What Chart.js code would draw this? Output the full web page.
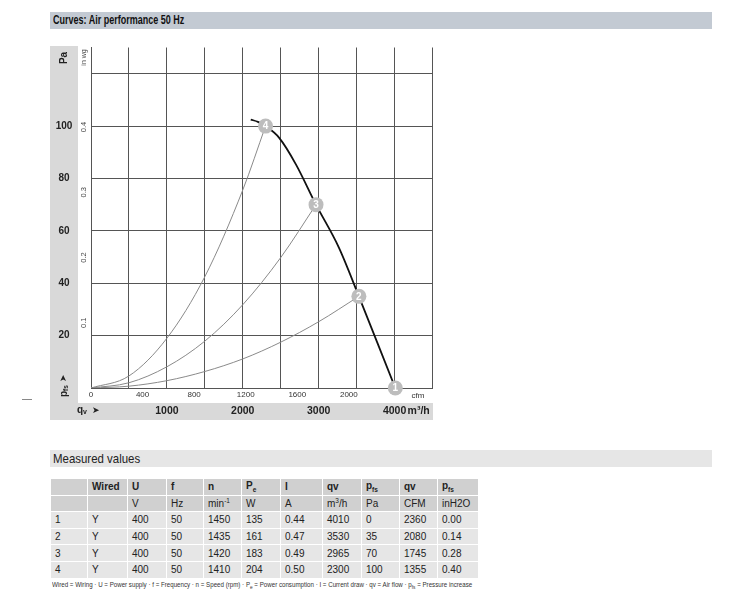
<!DOCTYPE html>
<html>
<head>
<meta charset="utf-8">
<script src="https://cdn.jsdelivr.net/npm/chart.js@4"></script>
<style>
  body { margin: 0; background: #fff; font-family: "Liberation Sans", Arial, sans-serif; color: #222; }
  #title { position: absolute; left: 50px; top: 12px; width: 662px; height: 17px; background: #c3cad3; }
  #title span { position: absolute; left: 3px; top: 1px; font: bold 12.5px "Liberation Sans", Arial, sans-serif; color: #111; transform: scaleX(0.72); transform-origin: left center; white-space: nowrap; }
  #wrap { position: absolute; left: 50px; top: 40px; width: 390px; height: 385px; }
  #dash { position: absolute; left: 22px; top: 399px; width: 10px; height: 1px; background: #888; }
  #mv { position: absolute; left: 50px; top: 450px; width: 662px; height: 17px; background: #e6e6e6; }
  #mv span { position: absolute; left: 3px; top: 1px; font-size: 13px; color: #222; transform: scaleX(0.88); transform-origin: left center; white-space: nowrap; }
  #tb { position: absolute; left: 50px; top: 478px; border-collapse: collapse; table-layout: fixed; width: 428px; }
  #tb td { border: 1px solid #fff; height: 15.6px; padding: 0 0 0 4px; font-size: 10px; color: #222; white-space: nowrap; overflow: hidden; }
  #tb tr.h td { background: #d0d0d0; }
  #tb tr.d td { background: #e6e6e6; }
  #tb tr.b td { font-weight: bold; }
  #tb sub, #tb sup { font-size: 6.5px; }
  #note { position: absolute; left: 52px; top: 581px; font-size: 6.5px; color: #333; white-space: nowrap; transform: scaleX(0.95); transform-origin: left center; }
  #note sub { font-size: 5px; }
</style>
</head>
<body>
<div id="title"><span>Curves: Air performance 50 Hz</span></div>
<div id="wrap"><canvas id="fanChart" width="390" height="385"></canvas></div>
<div id="dash"></div>
<div id="mv"><span>Measured values</span></div>
<table id="tb">
  <colgroup>
    <col style="width:37px"><col style="width:40px"><col style="width:39px"><col style="width:37px">
    <col style="width:38px"><col style="width:39px"><col style="width:42px"><col style="width:39px">
    <col style="width:38px"><col style="width:38px"><col style="width:41px">
  </colgroup>
  <tbody id="tbody"></tbody>
</table>
<div id="note">Wired = Wiring · U = Power supply · f = Frequency · n = Speed (rpm) · P<sub>e</sub> = Power consumption · I = Current draw · qv = Air flow · p<sub>fs</sub> = Pressure increase</div>

<script>
// fan curve (m3/h, Pa)
var fanQ = [2105, 2200, 2300, 2480, 2700, 2965, 3265, 3530, 3770, 4010];
var fanP = [102.5, 101.6, 100, 95.5, 85.4, 70, 53.7, 35, 17.5, 0];

// operating points 1-4
var opLabels = ['1', '2', '3', '4'];
var opQ = [4010, 3530, 2965, 2300];
var opP = [0, 35, 70, 100];

// system curves through points 2, 3, 4
var sys2Q = [0, 500, 1000, 1500, 2000, 2500, 3000, 3530];
var sys2P = [0, 0.7, 2.8, 6.3, 11.1, 17.5, 25.3, 35];
var sys3Q = [0, 500, 1000, 1500, 2000, 2500, 2965];
var sys3P = [0, 2, 8.1, 17.9, 31.8, 49.8, 70];
var sys4Q = [0, 500, 1000, 1500, 2000, 2300];
var sys4P = [0, 4.6, 19, 42.5, 75.6, 100];

// tick labels
var paTicks = [20, 40, 60, 80, 100];
var inwgTicks = [0.1, 0.2, 0.3, 0.4];
var cfmTicks = [0, 400, 800, 1200, 1600, 2000];
var m3hTicks = [1000, 2000, 3000, 4000];

// measured values table
var tblWired = ['Y', 'Y', 'Y', 'Y'];
var tblU = [400, 400, 400, 400];
var tblF = [50, 50, 50, 50];
var tblN = [1450, 1435, 1420, 1410];
var tblPe = [135, 161, 183, 204];
var tblI = ['0.44', '0.47', '0.49', '0.50'];
var tblQv = [4010, 3530, 2965, 2300];
var tblPfs = [0, 35, 70, 100];
var tblCfm = [2360, 2080, 1745, 1355];
var tblInH2O = ['0.00', '0.14', '0.28', '0.40'];

var M3H_PER_CFM = 1.699;
var PA_PER_INWG = 249.09;

function xy(qs, ps) {
  return qs.map(function (q, i) { return { x: q, y: ps[i] }; });
}

// table
var head1 = ['', 'Wired', 'U', 'f', 'n', 'P<sub>e</sub>', 'I', 'qv', 'p<sub>fs</sub>', 'qv', 'p<sub>fs</sub>'];
var head2 = ['', '', 'V', 'Hz', 'min<sup>-1</sup>', 'W', 'A', 'm<sup>3</sup>/h', 'Pa', 'CFM', 'inH2O'];
var html = '<tr class="h b">' + head1.map(function (c) { return '<td>' + c + '</td>'; }).join('') + '</tr>';
html += '<tr class="h">' + head2.map(function (c) { return '<td>' + c + '</td>'; }).join('') + '</tr>';
for (var i = 0; i < opLabels.length; i++) {
  var row = [opLabels[i], tblWired[i], tblU[i], tblF[i], tblN[i], tblPe[i], tblI[i], tblQv[i], tblPfs[i], tblCfm[i], tblInH2O[i]];
  html += '<tr class="d">' + row.map(function (c) { return '<td>' + c + '</td>'; }).join('') + '</tr>';
}
document.getElementById('tbody').innerHTML = html;

var decor = {
  id: 'decor',
  beforeDraw: function (chart) {
    var c = chart.ctx;
    c.save();
    c.fillStyle = '#d9d9d9';
    c.fillRect(0, 6, 28, 374);
    c.fillRect(0, 363, 383, 17);
    c.restore();
  },
  afterDatasetsDraw: function (chart) {
    var c = chart.ctx;
    var meta = chart.getDatasetMeta(0);
    c.save();
    c.fillStyle = '#fff';
    c.font = 'bold 10px "Liberation Sans", Arial, sans-serif';
    c.textAlign = 'center';
    c.textBaseline = 'middle';
    meta.data.forEach(function (pt, i) {
      c.fillText(opLabels[i], pt.x, pt.y + 0.5);
    });
    c.restore();
  },
  afterDraw: function (chart) {
    var c = chart.ctx;
    var xs = chart.scales.x, ys = chart.scales.y;
    c.save();
    c.fillStyle = '#222';
    c.textBaseline = 'middle';

    // Pa labels
    c.font = 'bold 10px "Liberation Sans", Arial, sans-serif';
    c.textAlign = 'center';
    paTicks.forEach(function (v) { c.fillText(String(v), 14, ys.getPixelForValue(v)); });

    // m3/h labels
    c.font = 'bold 10.5px "Liberation Sans", Arial, sans-serif';
    m3hTicks.forEach(function (v) { c.fillText(String(v), xs.getPixelForValue(v), 371); });
    c.textAlign = 'left';
    c.fillText('m³/h', xs.getPixelForValue(4000) + 13, 371);

    // qv arrow
    c.font = 'bold 10px "Liberation Sans", Arial, sans-serif';
    c.fillText('q', 27, 370);
    c.font = 'bold 7px "Liberation Sans", Arial, sans-serif';
    c.fillText('v', 33, 372);
    c.font = '9px "DejaVu Sans", sans-serif';
    c.fillText('➤', 42, 371);

    // cfm labels
    c.fillStyle = '#333';
    c.font = '8px "Liberation Sans", Arial, sans-serif';
    c.textAlign = 'center';
    cfmTicks.forEach(function (v) { c.fillText(String(v), xs.getPixelForValue(v * M3H_PER_CFM), 355); });
    c.fillText('cfm', 368, 356);

    // rotated labels
    function rot(x, y, fn) {
      c.save();
      c.translate(x, y);
      c.rotate(-Math.PI / 2);
      fn();
      c.restore();
    }
    c.fillStyle = '#444';
    c.font = '7.5px "Liberation Sans", Arial, sans-serif';
    inwgTicks.forEach(function (v) {
      rot(34, ys.getPixelForValue(v * PA_PER_INWG), function () { c.fillText(String(v), 0, 0); });
    });
    c.font = '7px "Liberation Sans", Arial, sans-serif';
    rot(34, 17.5, function () { c.fillText('in wg', 0, 0); });

    c.fillStyle = '#222';
    c.font = 'bold 10px "Liberation Sans", Arial, sans-serif';
    rot(14, 18, function () { c.fillText('Pa', 0, 0); });
    rot(14, 357, function () {
      c.textAlign = 'left';
      c.font = 'bold 10px "Liberation Sans", Arial, sans-serif';
      c.fillText('p', 0, 0);
      c.font = 'bold 6.5px "Liberation Sans", Arial, sans-serif';
      c.fillText('fs', 6, 2);
      c.font = '9px "DejaVu Sans", sans-serif';
      c.fillText('➤', 15, 0);
    });
    c.restore();
  }
};

var ctx = document.getElementById('fanChart').getContext('2d');
var chart = new Chart(ctx, {
  type: 'scatter',
  data: {
    datasets: [{
      // operating point markers
      data: xy(opQ, opP),
      showLine: false,
      clip: false,
      pointRadius: 7.5,
      pointBackgroundColor: '#bdbdbd',
      pointBorderColor: '#bdbdbd',
      pointBorderWidth: 0
    }, {
      data: xy(fanQ, fanP),
      showLine: true,
      borderColor: '#111',
      borderWidth: 1.8,
      pointRadius: 0,
      cubicInterpolationMode: 'monotone'
    }, {
      data: xy(sys2Q, sys2P),
      showLine: true,
      borderColor: '#8a8a8a',
      borderWidth: 1,
      pointRadius: 0,
      cubicInterpolationMode: 'monotone'
    }, {
      data: xy(sys3Q, sys3P),
      showLine: true,
      borderColor: '#8a8a8a',
      borderWidth: 1,
      pointRadius: 0,
      cubicInterpolationMode: 'monotone'
    }, {
      data: xy(sys4Q, sys4P),
      showLine: true,
      borderColor: '#8a8a8a',
      borderWidth: 1,
      pointRadius: 0,
      cubicInterpolationMode: 'monotone'
    }]
  },
  options: {
    responsive: false,
    animation: false,
    devicePixelRatio: 1,
    layout: { padding: { top: 7, right: 7, left: 0, bottom: 0 } },
    plugins: { legend: { display: false }, tooltip: { enabled: false } },
    scales: {
      x: {
        type: 'linear',
        min: 0,
        max: 4500,
        ticks: { display: false, stepSize: 500 },
        grid: { color: '#555', drawTicks: false },
        border: { color: '#555' },
        afterFit: function (s) { s.height = 37; }
      },
      y: {
        type: 'linear',
        min: 0,
        max: 130,
        ticks: { display: false, stepSize: 20, includeBounds: false },
        grid: { color: '#555', drawTicks: false },
        border: { color: '#555' },
        afterFit: function (s) { s.width = 41; }
      }
    }
  },
  plugins: [decor]
});
</script>
</body>
</html>
